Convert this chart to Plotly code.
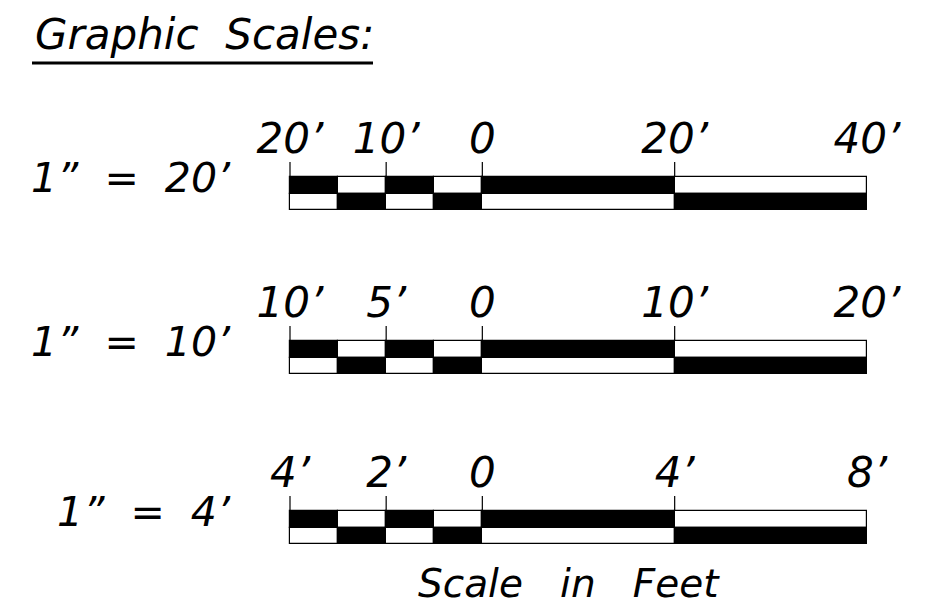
import plotly.graph_objects as go

# --- data ------------------------------------------------------------
scale_names = ['1\u201d = 20\u2019', '1\u201d = 10\u2019', '1\u201d = 4\u2019']
tick_inch = [-1, -0.5, 0, 1, 2]                 # label positions along the bar, in inches
labels_20 = ['20\u2019', '10\u2019', '0', '20\u2019', '40\u2019']
labels_10 = ['10\u2019', '5\u2019', '0', '10\u2019', '20\u2019']
labels_4 = ['4\u2019', '2\u2019', '0', '4\u2019', '8\u2019']
seg_start = [-1, -0.75, -0.5, -0.25, 0, 1]     # bar segments (inches)
seg_len = [0.25, 0.25, 0.25, 0.25, 1, 1]
top_fill = ['black', 'white', 'black', 'white', 'black', 'white']
bot_fill = ['white', 'black', 'white', 'black', 'white', 'black']
divider_inch = [-1, -0.5, 0, 1]                 # short vertical ticks above bar

all_labels = [labels_20, labels_10, labels_4]

# --- layout constants ------------------------------------------------
# page body has an 8px margin, so the figure is drawn 16px smaller
PAGE_W, PAGE_H = 934, 613
OFF = 8
W, H = PAGE_W - 2 * OFF, PAGE_H - 2 * OFF
PX_PER_IN = (867 - 290) / 3
X0 = -1 - (290 - OFF) / PX_PER_IN
X1 = X0 + W / PX_PER_IN
ROW_TOP = [177, 341, 511]          # page px
BAR_H = 16.5
FONT = 'DejaVu Sans'
SP = '\u00a0\u00a0'


def px_to_in(px):
    return X0 + (px - OFF) / PX_PER_IN


fig = go.Figure()

for i, top in enumerate(ROW_TOP):
    # two rows of alternating checker bars
    for k, fills in enumerate([top_fill, bot_fill]):
        fig.add_trace(go.Bar(
            orientation='h',
            base=seg_start,
            x=seg_len,
            y=[top + BAR_H * (k + 0.5)] * len(seg_len),
            width=BAR_H,
            marker=dict(color=fills, line=dict(color='black', width=1.2)),
            showlegend=False, hoverinfo='skip'))

    # ticks above bar
    tx, ty = [], []
    for d in divider_inch:
        tx += [d, d, None]
        ty += [top - 15, top, None]
    fig.add_trace(go.Scatter(x=tx, y=ty, mode='lines',
                             line=dict(color='black', width=1.2),
                             showlegend=False, hoverinfo='skip'))

    # distance labels
    fig.add_trace(go.Scatter(x=tick_inch, y=[top - 35] * len(tick_inch),
                             mode='text', text=all_labels[i],
                             textposition='middle center',
                             textfont=dict(family=FONT, size=42, color='black', style='italic'),
                             showlegend=False, hoverinfo='skip'))

    # scale name on the left
    fig.add_trace(go.Scatter(x=[-1 - 60 / PX_PER_IN], y=[top + 5],
                             mode='text', text=[scale_names[i].replace(' ', SP)],
                             textposition='middle left',
                             textfont=dict(family=FONT, size=41, color='black', style='italic'),
                             showlegend=False, hoverinfo='skip'))

fig.add_annotation(x=px_to_in(33), y=34, xanchor='left', yanchor='middle', showarrow=False,
                   text='Graphic' + SP + 'Scales:',
                   font=dict(family=FONT, size=42, color='black', style='italic'))
fig.add_shape(type='line', x0=px_to_in(32), x1=px_to_in(373), y0=63, y1=63,
              line=dict(color='black', width=3))

fig.add_annotation(x=px_to_in(569), y=583, xanchor='center', yanchor='middle', showarrow=False,
                   text='Scale' + SP + '\u00a0in' + SP + '\u00a0Feet',
                   font=dict(family=FONT, size=39, color='black', style='italic'))

fig.update_layout(
    width=W, height=H,
    margin=dict(l=0, r=0, t=0, b=0),
    paper_bgcolor='white', plot_bgcolor='white',
    barmode='overlay', bargap=0,
    xaxis=dict(range=[X0, X1], visible=False, fixedrange=True),
    yaxis=dict(range=[H + OFF, OFF], visible=False, fixedrange=True),
)

fig.write_html('out.html')
